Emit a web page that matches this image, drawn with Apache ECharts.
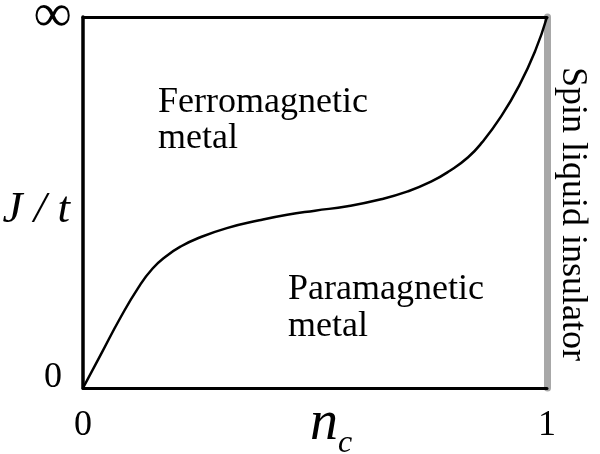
<!DOCTYPE html>
<html><head><meta charset="utf-8">
<script src="https://cdn.jsdelivr.net/npm/echarts@6/dist/echarts.min.js"></script>
<style>html,body{margin:0;padding:0;background:#fff}#c{width:600px;height:454px}</style>
</head><body><div id="c"></div>
<script>
// n_c values (0..1) and J/t boundary values (0 = 0, 1 = ∞)
var nc = [0, 0.04, 0.08, 0.12, 0.15, 0.18, 0.21, 0.25, 0.31, 0.38, 0.44, 0.50, 0.57, 0.64, 0.70, 0.75, 0.79, 0.83, 0.86, 0.90, 0.94, 0.975, 1];
var Jt = [0, 0.094, 0.188, 0.272, 0.322, 0.356, 0.381, 0.405, 0.431, 0.452, 0.467, 0.478, 0.490, 0.508, 0.530, 0.556, 0.585, 0.622, 0.662, 0.730, 0.815, 0.910, 1];
var xTickLabels = ['0', '1'];
var yTickLabels = ['0', '∞'];
var regionLabels = ['Ferromagnetic\nmetal', 'Paramagnetic\nmetal', 'Spin liquid insulator'];

var SERIF = '"Liberation Serif","DejaVu Serif",serif';
var chart = echarts.init(document.getElementById('c'));
var data = nc.map(function (v, i) { return [v, Jt[i]]; });

chart.setOption({
  animation: false,
  backgroundColor: '#fff',
  grid: { left: 83, right: 53, top: 17, bottom: 66, outerBoundsMode: 'none', containLabel: false },
  xAxis: [{
    type: 'value', min: 0, max: 1, interval: 1,
    axisLine: { show: true, onZero: false, lineStyle: { color: '#000', width: 3 } },
    axisTick: { show: false }, splitLine: { show: false },
    axisLabel: { color: '#000', fontFamily: SERIF, fontSize: 36, margin: 20,
      formatter: function (v) { return xTickLabels[v]; } },
    name: '{n|n}{c|c}', nameLocation: 'middle', nameGap: 0, nameMoveOverlap: false,
    nameTextStyle: { padding: [0, 0, 0, 32], rich: {
      n: { fontFamily: SERIF, fontStyle: 'italic', fontSize: 56, color: '#000', lineHeight: 56 },
      c: { fontFamily: SERIF, fontStyle: 'italic', fontSize: 32, color: '#000', padding: [40, 0, 0, 0] }
    } }
  }, {
    type: 'value', min: 0, max: 1, position: 'top',
    axisLine: { show: true, onZero: false, lineStyle: { color: '#000', width: 3 } },
    axisTick: { show: false }, axisLabel: { show: false }, splitLine: { show: false }
  }],
  yAxis: [{
    type: 'value', min: 0, max: 1, interval: 1,
    axisLine: { show: true, onZero: false, lineStyle: { color: '#000', width: 3.5 } },
    axisTick: { show: false }, splitLine: { show: false },
    axisLabel: { color: '#000', fontFamily: SERIF, margin: 11,
      formatter: function (v) { return v === 0 ? '{z|' + yTickLabels[0] + '}' : '{i|' + yTickLabels[1] + '}'; },
      rich: {
        z: { fontFamily: SERIF, fontSize: 36, color: '#000', padding: [0, 10, 20, 0] },
        i: { fontFamily: SERIF, fontSize: 54, color: '#000', padding: [0, 0, 0, 0] }
      } },
    name: 'J / t', nameLocation: 'middle', nameRotate: 0, nameGap: 13, nameMoveOverlap: false,
    nameTextStyle: { fontFamily: SERIF, fontStyle: 'italic', fontSize: 45, color: '#000', verticalAlign: 'top', lineHeight: 16 }
  }, {
    type: 'value', min: 0, max: 1, position: 'right',
    axisLine: { show: true, onZero: false, lineStyle: { color: '#a8a8a8', width: 7 } },
    axisTick: { show: false }, axisLabel: { show: false }, splitLine: { show: false }
  }],
  series: [{
    type: 'line', data: data, smooth: 0.5, symbol: 'none',
    lineStyle: { color: '#000', width: 2.5 }, clip: false
  }],
  graphic: [
    { type: 'text', left: 158, top: 85, style: { text: regionLabels[0], font: '36px ' + SERIF, fill: '#000', lineHeight: 36 } },
    { type: 'text', left: 288, top: 271, style: { text: regionLabels[1], font: '36px ' + SERIF, fill: '#000', lineHeight: 37 } },
    { type: 'text', x: 572, y: 214, rotation: -Math.PI / 2,
      style: { text: regionLabels[2], font: '36px ' + SERIF, fill: '#000', align: 'center', verticalAlign: 'middle' } }
  ]
});
</script></body></html>
